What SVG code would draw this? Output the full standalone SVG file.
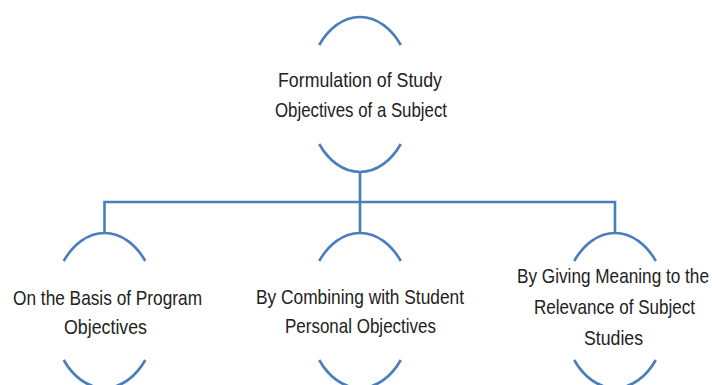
<svg xmlns="http://www.w3.org/2000/svg" width="712" height="385" viewBox="0 0 712 385">
<style>
.arc{fill:none;stroke:#4a7ebb;stroke-width:2.6}
.con{fill:none;stroke:#4a7ebb;stroke-width:2.6}
.t{font-family:"Liberation Sans",Arial,sans-serif;font-size:20px;fill:#222;text-anchor:middle}
</style>
<rect width="712" height="385" fill="#fff"/>
<g id="connectors">
<path class="con" d="M360 172 V202 M104.5 233 V202 H615 V233 M360 202 V233"/>
</g>
<g id="node-top">
<path class="arc" d="M319.2 45 A53 77.5 0 0 1 400.8 45"/>
<path class="arc" d="M319.2 144 A53 77.5 0 0 0 400.8 144"/>
<text class="t" transform="translate(360 87) scale(0.82 1)" textLength="200" lengthAdjust="spacingAndGlyphs">Formulation of Study</text>
<text class="t" transform="translate(361 117) scale(0.82 1)" textLength="209.8" lengthAdjust="spacingAndGlyphs">Objectives of a Subject</text>
</g>
<g id="node-left">
<path class="arc" d="M63.7 261 A53 77.5 0 0 1 145.3 261"/>
<path class="arc" d="M63.7 360 A53 77.5 0 0 0 145.3 360"/>
<text class="t" transform="translate(107.5 305) scale(0.82 1)" textLength="230.5" lengthAdjust="spacingAndGlyphs">On the Basis of  Program</text>
<text class="t" transform="translate(105.5 334) scale(0.82 1)" textLength="101.2" lengthAdjust="spacingAndGlyphs">Objectives</text>
</g>
<g id="node-middle">
<path class="arc" d="M319.2 261 A53 77.5 0 0 1 400.8 261"/>
<path class="arc" d="M319.2 360 A53 77.5 0 0 0 400.8 360"/>
<text class="t" transform="translate(360 304) scale(0.82 1)" textLength="253.7" lengthAdjust="spacingAndGlyphs">By Combining with Student</text>
<text class="t" transform="translate(360.5 333) scale(0.82 1)" textLength="184.1" lengthAdjust="spacingAndGlyphs">Personal Objectives</text>
</g>
<g id="node-right">
<path class="arc" d="M574.2 261 A53 77.5 0 0 1 655.8 261"/>
<path class="arc" d="M574.2 360 A53 77.5 0 0 0 655.8 360"/>
<text class="t" transform="translate(613 283) scale(0.82 1)" textLength="234.1" lengthAdjust="spacingAndGlyphs">By Giving Meaning to the</text>
<text class="t" transform="translate(614.5 314) scale(0.82 1)" textLength="196.3" lengthAdjust="spacingAndGlyphs">Relevance of Subject</text>
<text class="t" transform="translate(613.5 345) scale(0.82 1)" textLength="72" lengthAdjust="spacingAndGlyphs">Studies</text>
</g>
</svg>
